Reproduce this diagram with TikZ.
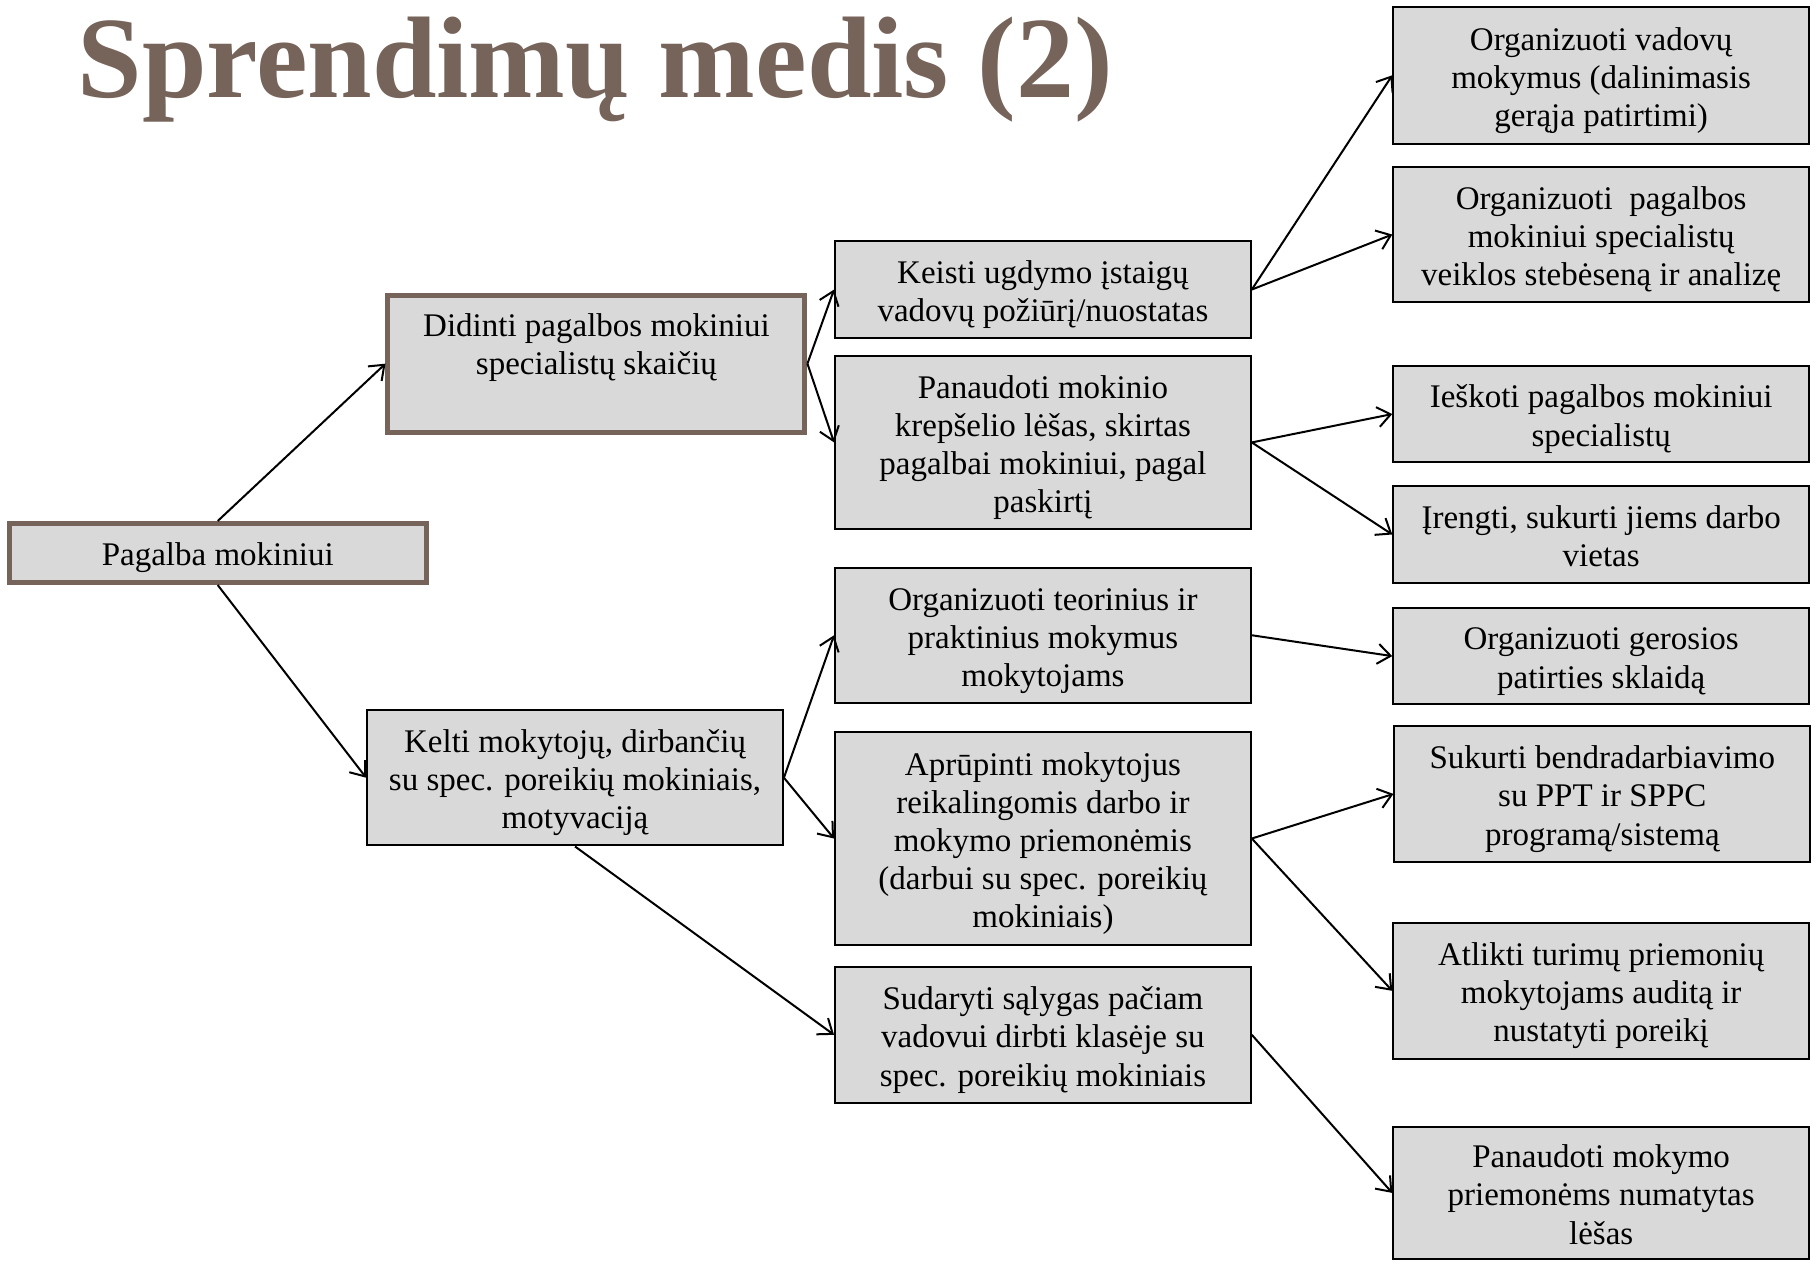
\documentclass[tikz,border=0pt]{standalone}
\usepackage{fontspec}
\setmainfont{Liberation Serif}
\usetikzlibrary{arrows.meta}
\definecolor{brn}{HTML}{76635A}
\definecolor{boxfill}{HTML}{D9D9D9}
\newcommand{\tstr}{\rule{0pt}{33pt}}
\newcommand{\bstr}{\rule[-7pt]{0pt}{0pt}}
\tikzset{
  bx/.style 2 args={draw=black, line width=2pt, fill=boxfill, inner sep=0pt,
    minimum width=#1*1.1582pt, minimum height=#2*1.1582pt, align=center,
    font=\fontsize{33}{38.2}\selectfont},
  thick box/.style={draw=brn, line width=5pt},
  arr/.style={-{Straight Barb[length=13pt,width=20pt]}, line width=2pt, black}
}
\begin{document}
\begin{tikzpicture}[x=1.1582pt, y=-1.1582pt]
\useasboundingbox (0,0) rectangle (1568,1088);
% title
\node[anchor=base west, inner sep=0pt, text=brn, font=\fontsize{116}{116}\selectfont\bfseries] (title) at (67,84) {Sprendimų medis (2)};
% nodes
\node[bx={360}{51}, thick box] (root) at (188,477.5) {\tstr Pagalba mokiniui\bstr};
\node[bx={360}{118}, thick box] (didinti) at (515,314) {\tstr Didinti pagalbos mokiniui\\specialistų skaičių\\\strut};
\node[bx={359}{117}] (kelti) at (496.5,671.5) {\tstr Kelti mokytojų, dirbančių\\su spec. poreikių mokiniais,\\motyvaciją\bstr};
\node[bx={359}{84}] (keisti) at (900.5,250) {\tstr Keisti ugdymo įstaigų\\vadovų požiūrį/nuostatas\bstr};
\node[bx={359}{150}] (panaud) at (900.5,382) {\tstr Panaudoti mokinio\\krepšelio lėšas, skirtas\\pagalbai mokiniui, pagal\\paskirtį\bstr};
\node[bx={359}{117}] (teor) at (900.5,548.5) {\tstr Organizuoti teorinius ir\\praktinius mokymus\\mokytojams\bstr};
\node[bx={359}{184}] (aprup) at (900.5,724) {\tstr Aprūpinti mokytojus\\reikalingomis darbo ir\\mokymo priemonėmis\\(darbui su spec. poreikių\\mokiniais)\bstr};
\node[bx={359}{117}] (sudar) at (900.5,893.5) {\tstr Sudaryti sąlygas pačiam\\vadovui dirbti klasėje su\\spec. poreikių mokiniais\bstr};
\node[bx={359}{118}] (r1) at (1382.5,65) {\tstr Organizuoti vadovų\\mokymus (dalinimasis\\gerąja patirtimi)\bstr};
\node[bx={359}{117}] (r2) at (1382.5,202.5) {\tstr Organizuoti\ \ pagalbos\\mokiniui specialistų\\veiklos stebėseną ir analizę\bstr};
\node[bx={359}{83}] (r3) at (1382.5,357.5) {\tstr Ieškoti pagalbos mokiniui\\specialistų\bstr};
\node[bx={359}{83}] (r4) at (1382.5,461.5) {\tstr Įrengti, sukurti jiems darbo\\vietas\bstr};
\node[bx={359}{83}] (r5) at (1382.5,566.5) {\tstr Organizuoti gerosios\\patirties sklaidą\bstr};
\node[bx={359}{117}] (r6) at (1383.5,685.5) {\tstr Sukurti bendradarbiavimo\\su PPT ir SPPC\\programą/sistemą\bstr};
\node[bx={359}{117}] (r7) at (1382.5,855.5) {\tstr Atlikti turimų priemonių\\mokytojams auditą ir\\nustatyti poreikį\bstr};
\node[bx={359}{114}] (r8) at (1382.5,1030) {\tstr Panaudoti mokymo\\priemonėms numatytas\\lėšas\bstr};
% connectors
\draw[arr] (root.north) -- (didinti.west);
\draw[arr] (root.south) -- (kelti.west);
\draw[arr] (didinti.east) -- (keisti.west);
\draw[arr] (didinti.east) -- (panaud.west);
\draw[arr] (keisti.east) -- (r1.west);
\draw[arr] (keisti.east) -- (r2.west);
\draw[arr] (panaud.east) -- (r3.west);
\draw[arr] (panaud.east) -- (r4.west);
\draw[arr] (kelti.east) -- (teor.west);
\draw[arr] (kelti.east) -- (aprup.west);
\draw[arr] (kelti.south) -- (sudar.west);
\draw[arr] (teor.east) -- (r5.west);
\draw[arr] (aprup.east) -- (r6.west);
\draw[arr] (aprup.east) -- (r7.west);
\draw[arr] (sudar.east) -- (r8.west);
\end{tikzpicture}
\end{document}
